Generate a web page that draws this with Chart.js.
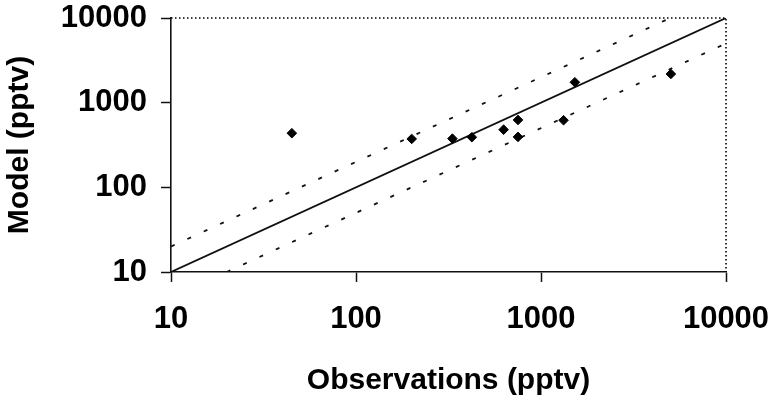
<!DOCTYPE html>
<html>
<head>
<meta charset="utf-8">
<script src="https://cdn.jsdelivr.net/npm/chart.js@4/dist/chart.umd.min.js"></script>
<style>
  html, body { margin: 0; padding: 0; background: #fff; }
  #wrap { width: 774px; height: 397px; }
</style>
</head>
<body>
<div id="wrap"><canvas id="c" width="774" height="397"></canvas></div>
<script>
// ---- data ----
const observations = [45, 200, 332, 423, 628, 751, 751, 1324, 1524, 5035];
const model        = [436, 373, 376, 391, 480, 625, 394, 620, 1742, 2183];

const oneToOne   = [[10, 10], [10000, 10000]];
const twoToOne   = [[10, 20], [5000, 10000]];
const oneToTwo   = [[20, 10], [10000, 5000]];

const xTickValues = [10, 100, 1000, 10000];
const yTickValues = [10, 100, 1000, 10000];
const axisMin = 10, axisMax = 10000;

const xTitle = 'Observations (pptv)';
const yTitle = 'Model (pptv)';

// ---- chart ----
const FONT = '"Liberation Sans", Arial, Helvetica, sans-serif';
const toPts = arr => arr.map(p => ({x: p[0], y: p[1]}));

const scatter = observations.map((v, i) => ({x: v, y: model[i]}));

function fixTicks(values) {
  return axis => { axis.ticks = values.map(v => ({value: v})); };
}

// dotted frame on the top and right edges of the plot area
const dottedFrame = {
  id: 'dottedFrame',
  beforeDatasetsDraw(chart) {
    const {ctx, chartArea: a} = chart;
    ctx.save();
    ctx.strokeStyle = '#000';
    ctx.lineWidth = 1.6;
    ctx.setLineDash([1.5, 2.5]);
    ctx.beginPath();
    ctx.moveTo(a.left, a.top);
    ctx.lineTo(a.right, a.top);
    ctx.lineTo(a.right, a.bottom);
    ctx.stroke();
    ctx.restore();
  }
};

new Chart(document.getElementById('c'), {
  type: 'scatter',
  plugins: [dottedFrame],
  data: {
    datasets: [
      {
        type: 'line', data: toPts(oneToOne), borderColor: '#111', borderWidth: 1.8,
        pointRadius: 0, fill: false, order: 2
      },
      {
        type: 'line', data: toPts(twoToOne), borderColor: '#111', borderWidth: 1.8,
        borderDash: [4, 14], pointRadius: 0, fill: false, order: 2
      },
      {
        type: 'line', data: toPts(oneToTwo), borderColor: '#111', borderWidth: 1.8,
        borderDash: [4, 14], pointRadius: 0, fill: false, order: 2
      },
      {
        data: scatter, pointStyle: 'rectRot', pointRadius: 4.8,
        backgroundColor: '#000', borderColor: '#000', borderWidth: 1, order: 1
      }
    ]
  },
  options: {
    responsive: false,
    animation: false,
    devicePixelRatio: 1,
    layout: { padding: { left: 0, right: 48, top: 18, bottom: 0 } },
    plugins: { legend: { display: false }, tooltip: { enabled: false }, title: { display: false } },
    scales: {
      x: {
        type: 'logarithmic', position: 'bottom', min: axisMin, max: axisMax,
        afterBuildTicks: fixTicks(xTickValues),
        afterFit: s => { s.height = 125; s.paddingLeft = 0; s.paddingRight = 0; },
        grid: { display: true, drawOnChartArea: false, drawTicks: true, tickLength: 10, tickColor: '#111', tickWidth: 1.5 },
        border: { display: true, color: '#111', width: 1.6 },
        ticks: {
          color: '#000', padding: 19, maxRotation: 0, autoSkip: false,
          font: { family: FONT, size: 31, weight: 'bold' },
          callback: v => String(v)
        },
        title: {
          display: true, text: xTitle, color: '#000',
          font: { family: FONT, size: 30, weight: 'bold' },
          padding: { top: 0, bottom: -2 }
        }
      },
      y: {
        type: 'logarithmic', position: 'left', min: axisMin, max: axisMax,
        afterBuildTicks: fixTicks(yTickValues),
        afterFit: s => { s.width = 171; s.paddingTop = 0; s.paddingBottom = 0; },
        grid: { display: true, drawOnChartArea: false, drawTicks: true, tickLength: 10, tickColor: '#111', tickWidth: 1.5 },
        border: { display: true, color: '#111', width: 1.6 },
        ticks: {
          color: '#000', padding: 14, autoSkip: false,
          font: { family: FONT, size: 31, weight: 'bold' },
          callback: v => String(v)
        },
        title: {
          display: true, text: yTitle, color: '#000',
          font: { family: FONT, size: 30, weight: 'bold' },
          padding: { top: 2, bottom: 0 }
        }
      }
    }
  }
});
</script>
</body>
</html>
